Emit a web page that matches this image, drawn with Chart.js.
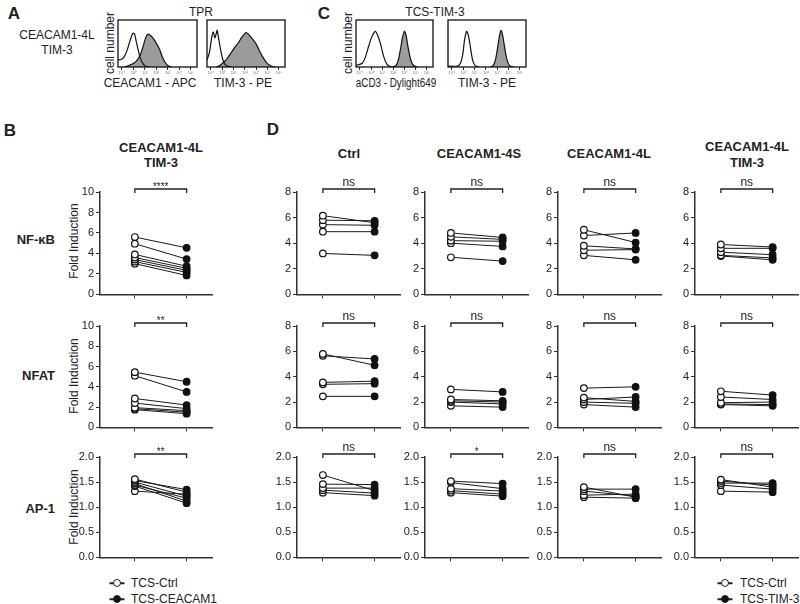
<!DOCTYPE html>
<html><head><meta charset="utf-8">
<script src="https://cdn.jsdelivr.net/npm/chart.js@4.4.1/dist/chart.umd.min.js"></script>
<style>
body{margin:0;background:#fff;width:800px;height:604px;position:relative;overflow:hidden;font-family:"Liberation Sans",Arial,sans-serif;color:#222}
canvas{position:absolute}
.t{position:absolute;transform:translate(-50%,-50%);white-space:nowrap;font-size:12px;line-height:1}
.b{font-weight:bold;font-size:13px}
.L{font-weight:bold;font-size:17px}
.rl{transform:translate(-100%,-50%)}
.r{transform:translate(-50%,-50%) rotate(-90deg)}
.sx{transform:translate(-50%,-50%) scaleX(0.82)}
.lg{position:absolute;white-space:nowrap;font-size:12px;line-height:1;transform:translateY(-50%)}
.mk{position:absolute;width:15px;height:1.5px;background:#222;transform:translate(-50%,-50%)}
.dot{position:absolute;width:6px;height:6px;border:1.3px solid #222;border-radius:50%;transform:translate(-50%,-50%);background:#fff}
.dot.f{background:#111}
</style></head><body>
<div class="t L" style="left:14px;top:13px">A</div>
<div class="t" style="left:57px;top:35px">CEACAM1-4L</div>
<div class="t" style="left:57px;top:50px">TIM-3</div>
<div class="t" style="left:201px;top:12px">TPR</div>
<div class="t r" style="left:110px;top:43px">cell number</div>
<div class="t" style="left:150px;top:83px">CEACAM1 - APC</div>
<div class="t" style="left:243px;top:83px">TIM-3 - PE</div>
<div class="t L" style="left:324px;top:13px">C</div>
<div class="t" style="left:435px;top:12px">TCS-TIM-3</div>
<div class="t r" style="left:348px;top:43px">cell number</div>
<div class="t sx" style="left:396px;top:83px">aCD3 - Dylight649</div>
<div class="t" style="left:487px;top:83px">TIM-3 - PE</div>

<div class="t L" style="left:10px;top:130px">B</div>
<div class="t b" style="left:161px;top:147px">CEACAM1-4L</div>
<div class="t b" style="left:161px;top:162px">TIM-3</div>
<div class="t b rl" style="left:55px;top:239px">NF-κB</div>
<div class="t b rl" style="left:55px;top:375px">NFAT</div>
<div class="t b rl" style="left:55px;top:508px">AP-1</div>
<div class="t r" style="left:74px;top:241px">Fold Induction</div>
<div class="t r" style="left:74px;top:376px">Fold Induction</div>
<div class="t r" style="left:74px;top:507px">Fold Induction</div>

<div class="t L" style="left:273px;top:129px">D</div>
<div class="t b" style="left:349px;top:153px">Ctrl</div>
<div class="t b" style="left:479px;top:153px">CEACAM1-4S</div>
<div class="t b" style="left:609px;top:153px">CEACAM1-4L</div>
<div class="t b" style="left:747px;top:146px">CEACAM1-4L</div>
<div class="t b" style="left:747px;top:162px">TIM-3</div>

<div class="mk" style="left:117px;top:583px"></div><div class="dot" style="left:117px;top:583px"></div>
<div class="lg" style="left:131px;top:583px" id="lgB0"></div>
<div class="mk" style="left:117px;top:599px"></div><div class="dot f" style="left:117px;top:599px"></div>
<div class="lg" style="left:131px;top:599px" id="lgB1"></div>
<div class="mk" style="left:725px;top:583px"></div><div class="dot" style="left:725px;top:583px"></div>
<div class="lg" style="left:740px;top:583px" id="lgD0"></div>
<div class="mk" style="left:725px;top:599px"></div><div class="dot f" style="left:725px;top:599px"></div>
<div class="lg" style="left:740px;top:599px" id="lgD1"></div>

<script>
// ---------- data ----------
const groupsB = ['TCS-Ctrl', 'TCS-CEACAM1'];
const groupsD = ['TCS-Ctrl', 'TCS-TIM-3'];

// Panel B (CEACAM1-4L / TIM-3)
const nfkbB_ctrl = [5.6, 4.95, 3.9, 3.6, 3.4, 3.2, 3.0];
const nfkbB_cea  = [4.55, 3.45, 2.75, 2.55, 2.35, 2.15, 1.85];
const nfatB_ctrl = [5.45, 5.1, 2.85, 2.4, 1.95, 1.85, 1.75];
const nfatB_cea  = [4.5, 3.5, 2.2, 1.85, 1.65, 1.5, 1.35];
const ap1B_ctrl  = [1.56, 1.53, 1.50, 1.47, 1.44, 1.42, 1.32];
const ap1B_cea   = [1.30, 1.35, 1.22, 1.12, 1.18, 1.08, 1.26];
const sigB = ['****', '**', '**'];

// Panel D columns
const columnsD = ['Ctrl', 'CEACAM1-4S', 'CEACAM1-4L', 'CEACAM1-4L TIM-3'];
// NF-kB
const nfkbD_ctrl_pre = [6.15, 5.8, 5.45, 4.9, 3.2],  nfkbD_ctrl_post = [5.6, 5.75, 5.4, 4.9, 3.05];
const nfkbD_4S_pre   = [4.8, 4.5, 4.2, 4.0, 2.9],    nfkbD_4S_post   = [4.45, 4.3, 4.15, 3.75, 2.6];
const nfkbD_4L_pre   = [5.05, 4.6, 3.8, 3.45, 3.05], nfkbD_4L_post   = [4.05, 4.8, 3.55, 3.5, 2.7];
const nfkbD_TIM_pre  = [3.9, 3.6, 3.3, 3.05, 3.0],   nfkbD_TIM_post  = [3.7, 3.6, 3.1, 2.85, 2.7];
// NFAT
const nfatD_ctrl_pre = [5.8, 5.65, 3.55, 3.4, 2.45], nfatD_ctrl_post = [4.9, 5.4, 3.65, 3.45, 2.45];
const nfatD_4S_pre   = [3.0, 2.2, 2.1, 2.0, 1.7],    nfatD_4S_post   = [2.8, 2.1, 2.0, 1.85, 1.6];
const nfatD_4L_pre   = [3.1, 2.35, 2.2, 2.0, 1.8],   nfatD_4L_post   = [3.2, 2.05, 2.4, 1.9, 1.6];
const nfatD_TIM_pre  = [2.85, 2.4, 1.95, 1.85, 1.8], nfatD_TIM_post  = [2.55, 2.2, 2.0, 1.8, 1.7];
// AP-1
const ap1D_ctrl_pre = [1.64, 1.46, 1.38, 1.34, 1.29], ap1D_ctrl_post = [1.33, 1.45, 1.38, 1.28, 1.23];
const ap1D_4S_pre   = [1.52, 1.49, 1.37, 1.33, 1.29], ap1D_4S_post   = [1.47, 1.37, 1.32, 1.26, 1.22];
const ap1D_4L_pre   = [1.40, 1.36, 1.32, 1.24, 1.20], ap1D_4L_post   = [1.20, 1.36, 1.22, 1.26, 1.18];
const ap1D_TIM_pre  = [1.55, 1.52, 1.48, 1.44, 1.32], ap1D_TIM_post  = [1.40, 1.44, 1.48, 1.36, 1.30];
const sigD = [['ns','ns','ns','ns'], ['ns','ns','ns','ns'], ['ns','*','ns','ns']];

// y-axis maxima / steps per row
const yMaxB = [10, 10, 2], yMaxD = [8, 8, 2], yStep = [2, 2, 0.5];

// Histograms (x: % of log axis, y: % of max count)
const histTicks = [5, 19.5, 34, 48.5, 63, 77.5, 92];
const histTickLabels = ['10⁻¹','10⁰','10¹','10²','10³','10⁴','10⁵'];
const h1Open   = [[0,15],[4,16],[8,22],[12,38],[16,60],[19,72],[21,70],[23,55],[25,40],[28,20],[32,6],[36,1],[40,0]];
const h1Filled = [[8,0],[12,2],[16,5],[20,8],[24,14],[28,25],[32,45],[35,62],[38,70],[41,67],[44,62],[47,55],[50,46],[53,36],[56,22],[60,9],[64,2],[68,0]];
const h2Open   = [[0,15],[3,30],[6,62],[8,75],[10,62],[12,72],[13,78],[15,60],[18,32],[21,12],[24,4],[28,1],[32,0]];
const h2Filled = [[12,0],[16,3],[20,8],[24,14],[28,23],[32,33],[36,43],[40,51],[44,62],[48,70],[50,73],[53,70],[56,64],[60,56],[64,46],[68,32],[72,20],[76,10],[80,4],[84,1],[88,0]];
const h3Open   = [[0,4],[4,5],[8,8],[12,20],[16,42],[20,62],[23,72],[25,76],[28,68],[32,48],[36,22],[40,6],[44,1],[48,0]];
const h3Filled = [[48,0],[52,3],[55,15],[58,40],[60,60],[62,72],[63,76],[65,68],[67,48],[70,22],[73,7],[76,2],[80,0]];
const h4Open   = [[0,2],[12,2],[16,8],[19,28],[21,55],[23,72],[24,76],[26,68],[28,50],[30,28],[32,12],[35,3],[40,0]];
const h4Filled = [[54,0],[57,2],[60,10],[62,25],[64,45],[66,66],[68,78],[70,68],[72,48],[74,28],[76,13],[79,3],[84,0]];

// ---------- rendering ----------
document.getElementById('lgB0').textContent = groupsB[0];
document.getElementById('lgB1').textContent = groupsB[1];
document.getElementById('lgD0').textContent = groupsD[0];
document.getElementById('lgD1').textContent = groupsD[1];

Chart.defaults.font.family = '"Liberation Sans", Arial, sans-serif';
Chart.defaults.color = '#222';

const bracketPlugin = {
  id: 'bracket',
  afterDraw(ch, args, opts) {
    const {ctx, chartArea: a, scales: {x}} = ch;
    const x0 = x.getPixelForValue(0), x1 = x.getPixelForValue(1);
    const y = a.top - 3;
    ctx.save();
    ctx.strokeStyle = '#222'; ctx.lineWidth = 1.3;
    ctx.beginPath();
    ctx.moveTo(x0, y + 4); ctx.lineTo(x0, y); ctx.lineTo(x1, y); ctx.lineTo(x1, y + 4);
    ctx.stroke();
    ctx.fillStyle = '#222'; ctx.textAlign = 'center'; ctx.textBaseline = 'alphabetic';
    const ns = opts.text === 'ns';
    ctx.font = (ns ? '12px' : '10px') + ' "Liberation Sans", Arial, sans-serif';
    ctx.fillText(opts.text, (x0 + x1) / 2, ns ? y - 3 : y + 1);
    ctx.restore();
  }
};

function pairChart(x0, top, w, h, xmin, xmax, ymax, step, pre, post, sig) {
  const padL = 34, padT = 26, padB = 8, padR = 4;
  const c = document.createElement('canvas');
  c.width = padL + w + padR; c.height = padT + h + padB;
  c.style.left = (x0 - padL) + 'px'; c.style.top = (top - padT) + 'px';
  document.body.appendChild(c);
  const dec = step < 1 ? 1 : 0;
  const datasets = pre.map((v, i) => ({
    data: [{x: 0, y: v}, {x: 1, y: post[i]}],
    borderColor: '#1a1a1a', borderWidth: 1,
    pointRadius: 3.3, pointHoverRadius: 3.3, pointBorderWidth: 1.2,
    pointBorderColor: '#111', pointBackgroundColor: ['#ffffff', '#111111']
  }));
  new Chart(c, {
    type: 'line',
    data: {datasets},
    options: {
      responsive: false, animation: false, events: [],
      layout: {padding: {top: padT, right: padR, left: 0, bottom: 0}},
      plugins: {legend: {display: false}, tooltip: {enabled: false}, bracket: {text: sig}},
      scales: {
        x: {type: 'linear', min: xmin, max: xmax,
            afterBuildTicks: s => { s.ticks = [{value: 0}, {value: 1}]; },
            afterFit: s => { s.height = padB; },
            ticks: {display: false},
            grid: {drawOnChartArea: false, drawTicks: true, tickLength: 4, color: '#333', lineWidth: 1},
            border: {display: true, color: '#333', width: 1.5}},
        y: {min: 0, max: ymax,
            afterFit: s => { s.width = padL; },
            ticks: {stepSize: step, font: {size: 11}, color: '#222', padding: 2, callback: v => v.toFixed(dec)},
            grid: {drawOnChartArea: false, tickLength: 4, color: '#333', lineWidth: 1},
            border: {color: '#333', width: 1.5}}
      }
    },
    plugins: [bracketPlugin]
  });
}

const rowTop = [192, 326, 457], rowH = [103, 102, 101];
const pB = [[nfkbB_ctrl, nfkbB_cea], [nfatB_ctrl, nfatB_cea], [ap1B_ctrl, ap1B_cea]];
for (let r = 0; r < 3; r++) {
  pairChart(100, rowTop[r], 113, rowH[r], -0.673, 1.5, yMaxB[r], yStep[r], pB[r][0], pB[r][1], sigB[r]);
}
const dAxisX = [297, 425, 558, 695];
const pD = [
  [[nfkbD_ctrl_pre, nfkbD_ctrl_post], [nfkbD_4S_pre, nfkbD_4S_post], [nfkbD_4L_pre, nfkbD_4L_post], [nfkbD_TIM_pre, nfkbD_TIM_post]],
  [[nfatD_ctrl_pre, nfatD_ctrl_post], [nfatD_4S_pre, nfatD_4S_post], [nfatD_4L_pre, nfatD_4L_post], [nfatD_TIM_pre, nfatD_TIM_post]],
  [[ap1D_ctrl_pre, ap1D_ctrl_post], [ap1D_4S_pre, ap1D_4S_post], [ap1D_4L_pre, ap1D_4L_post], [ap1D_TIM_pre, ap1D_TIM_post]]
];
for (let r = 0; r < 3; r++) for (let k = 0; k < 4; k++) {
  pairChart(dAxisX[k], rowTop[r], 104, rowH[r], -0.5, 1.5, yMaxD[r], yStep[r], pD[r][k][0], pD[r][k][1], sigD[r][k]);
}

// Histograms
const boxPlugin = {
  id: 'hbox',
  afterDatasetsDraw(ch) {
    const {ctx, chartArea: a} = ch;
    ctx.save(); ctx.strokeStyle = '#111'; ctx.lineWidth = 1.3;
    ctx.strokeRect(a.left, a.top, a.right - a.left, a.bottom - a.top);
    ctx.restore();
  }
};
function histChart(l, t, w, h, open, filled) {
  const c = document.createElement('canvas');
  const pad = 2, bot = 9;
  c.width = w + 2 * pad; c.height = h + pad + bot;
  c.style.left = (l - pad) + 'px'; c.style.top = (t - pad) + 'px';
  document.body.appendChild(c);
  const toXY = arr => arr.map(p => ({x: p[0], y: p[1]}));
  new Chart(c, {
    type: 'line',
    data: {datasets: [
      {data: toXY(open), borderColor: '#111', borderWidth: 1.2, pointRadius: 0, fill: false, tension: 0.25},
      {data: toXY(filled), borderColor: '#111', borderWidth: 1.2, pointRadius: 0, fill: 'origin', backgroundColor: '#9c9c9c', tension: 0.25}
    ]},
    options: {
      responsive: false, animation: false, events: [],
      layout: {padding: {top: pad, left: pad, right: pad, bottom: 0}},
      plugins: {legend: {display: false}, tooltip: {enabled: false}},
      scales: {
        x: {type: 'linear', min: 0, max: 100,
            afterBuildTicks: s => { s.ticks = histTicks.map(v => ({value: v})); },
            afterFit: s => { s.height = bot; },
            ticks: {font: {size: 4}, color: '#777', padding: 0, maxRotation: 0, autoSkip: false,
                    callback: (v, i) => histTickLabels[i]},
            grid: {drawOnChartArea: false, tickLength: 3, color: '#333'},
            border: {display: false}},
        y: {display: false, min: 0, max: 100}
      }
    },
    plugins: [boxPlugin]
  });
}
histChart(118, 20, 79, 47.5, h1Open, h1Filled);
histChart(206.5, 20, 78, 47.5, h2Open, h2Filled);
histChart(356, 20, 77.5, 47.5, h3Open, h3Filled);
histChart(447.5, 20, 78.5, 47.5, h4Open, h4Filled);
</script>
</body></html>
